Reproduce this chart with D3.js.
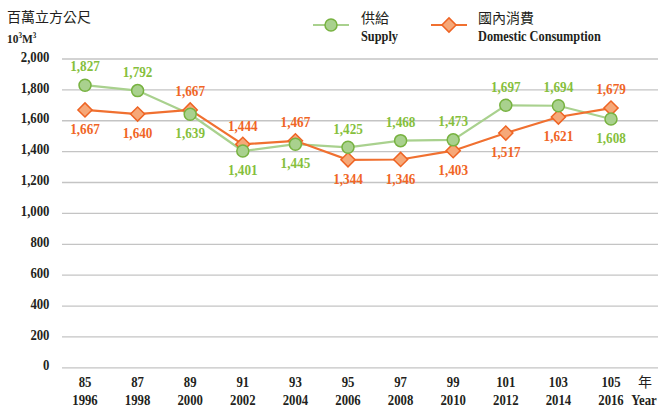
<!DOCTYPE html>
<html><head><meta charset="utf-8">
<script src="https://cdn.jsdelivr.net/npm/d3@7/dist/d3.min.js"></script>
<style>
html,body{margin:0;padding:0;background:#fff;}
svg{display:block;}
</style></head>
<body>
<svg id="chart" width="659" height="409"></svg>
<script>
const rocYears = ["85","87","89","91","93","95","97","99","101","103","105"];
const adYears = ["1996","1998","2000","2002","2004","2006","2008","2010","2012","2014","2016"];
const supply = [1827,1792,1639,1401,1445,1425,1468,1473,1697,1694,1608];
const consumption = [1667,1640,1667,1444,1467,1344,1346,1403,1517,1621,1679];
const supplyLabelPos = ["up","up","down","down","down","up","up","up","up","up","down"];
const consumptionLabelPos = ["down","down","up","up","up","down","down","down","down","down","up"];
const yTicks = [0,200,400,600,800,1000,1200,1400,1600,1800,2000];

const svg = d3.select("#chart");
const serif = "'Liberation Serif','Times New Roman',serif";
const cjk = "'Noto Sans CJK TC','Noto Sans CJK SC',sans-serif";
const SX = 0.88;

const x = d3.scalePoint().domain(rocYears).range([85, 611]);
const y = d3.scaleLinear().domain([0, 2000]).range([367.3, 58.5]);
const fmt = d3.format(",");

// gridlines
const grid = svg.append("g").attr("transform","translate(62,0)")
  .call(d3.axisLeft(y).tickValues(yTicks).tickSize(-596).tickFormat(""));
grid.select(".domain").remove();
grid.selectAll(".tick line").attr("stroke","#c4c4c4").attr("stroke-width",1.3);

// y tick labels
const yAxis = svg.append("g").attr("transform","translate(49.5,0)")
  .call(d3.axisLeft(y).tickValues(yTicks).tickSize(0).tickPadding(0).tickFormat(fmt));
yAxis.select(".domain").remove();
yAxis.selectAll(".tick text")
  .attr("x",0).attr("dy","0.32em")
  .attr("transform",`translate(0,-2) scale(${SX},1)`)
  .attr("text-anchor","end")
  .style("font-family",serif).style("font-weight","bold").style("font-size","14.5px")
  .attr("fill","#231f20");

// x labels
const xg = svg.append("g");
xg.selectAll("text.roc").data(rocYears).join("text")
  .attr("transform",d=>`translate(${x(d)},387) scale(${SX},1)`)
  .attr("text-anchor","middle")
  .style("font-family",serif).style("font-weight","bold").style("font-size","14.5px")
  .attr("fill","#231f20").text(d=>d);
xg.selectAll("text.ad").data(adYears).join("text")
  .attr("transform",(d,i)=>`translate(${x(rocYears[i])},405) scale(${SX},1)`)
  .attr("text-anchor","middle")
  .style("font-family",serif).style("font-weight","bold").style("font-size","14.5px")
  .attr("fill","#231f20").text(d=>d);
svg.append("text").attr("x",645).attr("y",387).attr("text-anchor","middle")
  .style("font-family",cjk).style("font-size","14px").attr("fill","#231f20").text("年");
svg.append("text").attr("transform",`translate(644,405) scale(${SX},1)`).attr("text-anchor","middle")
  .style("font-family",serif).style("font-weight","bold").style("font-size","14.5px")
  .attr("fill","#231f20").text("Year");

// y title
svg.append("text").attr("x",7).attr("y",22)
  .style("font-family",cjk).style("font-size","14px").attr("fill","#231f20").text("百萬立方公尺");
const unit = svg.append("text").attr("transform",`translate(7,43) scale(${SX},1)`)
  .style("font-family",serif).style("font-weight","bold").style("font-size","13px").attr("fill","#231f20");
unit.append("tspan").text("10");
unit.append("tspan").attr("dy","-5").style("font-size","8px").text("3");
unit.append("tspan").attr("dy","5").text("M");
unit.append("tspan").attr("dy","-5").style("font-size","8px").text("3");

// colors
const sLine = "#a9d18e", sFill = "#a9d18e", sStroke = "#77b240", sText = "#86bf3c";
const cLine = "#f07030", cFill = "#f6a878", cStroke = "#ee6424", cText = "#f06525";

const line = d3.line().x((d,i)=>x(rocYears[i])).y(d=>y(d));

svg.append("path").datum(supply).attr("d",line)
  .attr("fill","none").attr("stroke",sLine).attr("stroke-width",2.2);
svg.append("path").datum(consumption).attr("d",line)
  .attr("fill","none").attr("stroke",cLine).attr("stroke-width",2.2);

const diamond = d3.symbol().type(d3.symbolSquare).size(100);

svg.append("g").selectAll("path").data(consumption).join("path")
  .attr("d",diamond)
  .attr("transform",(d,i)=>`translate(${x(rocYears[i])},${y(d)}) rotate(45)`)
  .attr("fill",cFill).attr("stroke",cStroke).attr("stroke-width",1.5);

svg.append("g").selectAll("circle").data(supply).join("circle")
  .attr("cx",(d,i)=>x(rocYears[i])).attr("cy",d=>y(d)).attr("r",6)
  .attr("fill",sFill).attr("stroke",sStroke).attr("stroke-width",1.5);

// data labels
function labels(data, pos, color){
  svg.append("g").selectAll("text").data(data).join("text")
    .attr("transform",(d,i)=>`translate(${x(rocYears[i])},${y(d) + (pos[i]==="up" ? -19 : 19)}) scale(${SX},1)`)
    .attr("dy","0.35em")
    .attr("text-anchor","middle")
    .style("font-family",serif).style("font-weight","bold").style("font-size","15px")
    .attr("fill",color).text(d=>fmt(d));
}
labels(supply, supplyLabelPos, sText);
labels(consumption, consumptionLabelPos, cText);

// legend
const lg = svg.append("g");
lg.append("line").attr("x1",313).attr("x2",349).attr("y1",25).attr("y2",25)
  .attr("stroke",sLine).attr("stroke-width",2.2);
lg.append("circle").attr("cx",331).attr("cy",25).attr("r",6)
  .attr("fill",sFill).attr("stroke",sStroke).attr("stroke-width",1.5);
lg.append("text").attr("x",361).attr("y",23)
  .style("font-family",cjk).style("font-size","14px").attr("fill","#231f20").text("供給");
lg.append("text").attr("transform",`translate(361,41) scale(${SX},1)`)
  .style("font-family",serif).style("font-weight","bold").style("font-size","14px")
  .attr("fill","#231f20").text("Supply");

lg.append("line").attr("x1",431).attr("x2",467).attr("y1",25).attr("y2",25)
  .attr("stroke",cLine).attr("stroke-width",2.2);
lg.append("path").attr("d",diamond).attr("transform","translate(449,25) rotate(45)")
  .attr("fill",cFill).attr("stroke",cStroke).attr("stroke-width",1.5);
lg.append("text").attr("x",478).attr("y",23)
  .style("font-family",cjk).style("font-size","14px").attr("fill","#231f20").text("國內消費");
lg.append("text").attr("transform",`translate(478,41) scale(${SX},1)`)
  .style("font-family",serif).style("font-weight","bold").style("font-size","14px")
  .attr("fill","#231f20").text("Domestic Consumption");
</script>
</body></html>
